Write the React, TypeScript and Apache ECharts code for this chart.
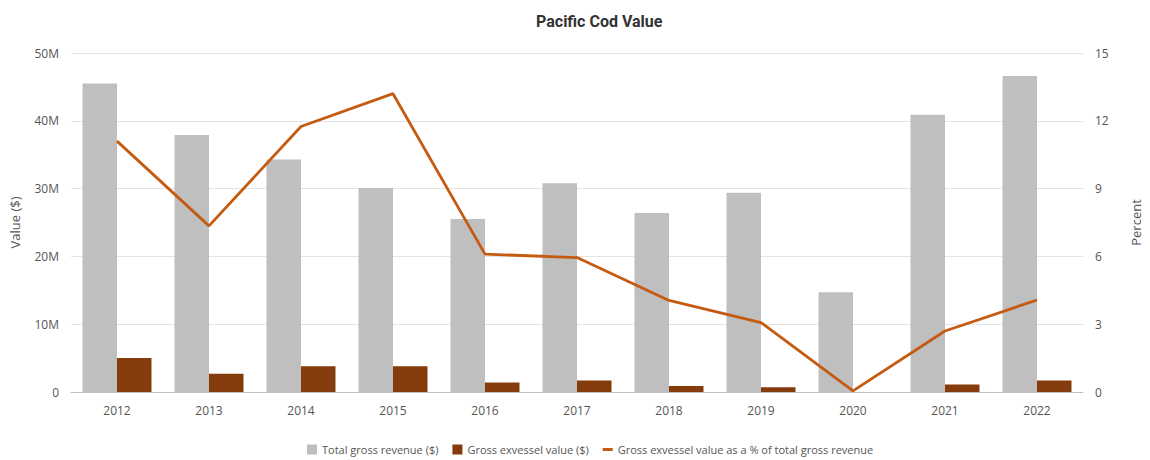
import React, { useEffect, useRef } from "react";
import * as echarts from "echarts";

const years = ["2012", "2013", "2014", "2015", "2016", "2017", "2018", "2019", "2020", "2021", "2022"];
const totalGrossRevenue = [45.5e6, 37.9e6, 34.3e6, 30.1e6, 25.5e6, 30.8e6, 26.4e6, 29.4e6, 14.7e6, 40.9e6, 46.6e6];
const grossExvesselValue = [5.0e6, 2.7e6, 3.8e6, 3.8e6, 1.4e6, 1.7e6, 0.9e6, 0.7e6, 0.0e6, 1.1e6, 1.7e6];
const exvesselPercent = [11.1, 7.35, 11.75, 13.2, 6.1, 5.95, 4.05, 3.07, 0.05, 2.7, 4.07];

const FONT = "'Open Sans', 'Noto Sans', sans-serif";

export default function App() {
  const ref = useRef<HTMLDivElement>(null);
  useEffect(() => {
    document.body.style.margin = "0";
    const chart = echarts.init(ref.current!, null, { renderer: "svg" });
    chart.setOption({
      animation: false,
      backgroundColor: "#ffffff",
      title: {
        text: "Pacific Cod Value",
        left: 531,
        top: 8,
        textStyle: { fontFamily: "'Roboto', sans-serif", fontSize: 16, fontWeight: "bold", color: "#333333" },
      },
      legend: {
        bottom: 0,
        left: 302,
        itemWidth: 10,
        itemHeight: 10,
        itemGap: 14,
        textStyle: { fontFamily: FONT, fontSize: 11, color: "#555555" },
        data: [
          { name: "Total gross revenue ($)", icon: "rect" },
          { name: "Gross exvessel value ($)", icon: "rect" },
          { name: "Gross exvessel value as a % of total gross revenue", icon: "path://M0,0 L10,0 L10,3 L0,3 Z", itemStyle: { color: "#c55a11" } },
        ],
      },
      grid: { left: 68, right: 56, top: 53, bottom: 68, containLabel: false },
      xAxis: {
        type: "category",
        data: years,
        axisLine: { lineStyle: { color: "#bfbfbf" } },
        axisTick: { show: false },
        axisLabel: { fontFamily: FONT, fontSize: 12, color: "#555555", margin: 12 },
      },
      yAxis: [
        {
          type: "value",
          min: 0,
          max: 50e6,
          interval: 10e6,
          name: "Value ($)",
          nameLocation: "middle",
          nameGap: 50,
          nameTextStyle: { fontFamily: FONT, fontSize: 13, color: "#555555" },
          axisLabel: {
            fontFamily: FONT,
            fontSize: 12,
            color: "#555555",
            margin: 12,
            formatter: (v: number) => (v === 0 ? "0" : v / 1e6 + "M"),
          },
          splitLine: { lineStyle: { color: "#e3e3e3" } },
          axisLine: { show: false },
          axisTick: { show: false },
        },
        {
          type: "value",
          min: 0,
          max: 15,
          interval: 3,
          name: "Percent",
          nameLocation: "middle",
          nameGap: 46,
          nameTextStyle: { fontFamily: FONT, fontSize: 13, color: "#555555" },
          axisLabel: { fontFamily: FONT, fontSize: 12, color: "#555555", margin: 12 },
          splitLine: { show: false },
          axisLine: { show: false },
          axisTick: { show: false },
        },
      ],
      series: [
        {
          name: "Total gross revenue ($)",
          type: "bar",
          data: totalGrossRevenue,
          itemStyle: { color: "#bfbfbf" },
          barGap: "0%",
          barCategoryGap: "25%",
        },
        {
          name: "Gross exvessel value ($)",
          type: "bar",
          data: grossExvesselValue,
          itemStyle: { color: "#843c0c" },
        },
        {
          name: "Gross exvessel value as a % of total gross revenue",
          type: "line",
          yAxisIndex: 1,
          data: exvesselPercent,
          symbol: "none",
          lineStyle: { color: "#c55a11", width: 2.8 },
          itemStyle: { color: "#c55a11" },
        },
      ],
    });
    return () => chart.dispose();
  }, []);
  return <div ref={ref} style={{ width: 1150, height: 460 }} />;
}
